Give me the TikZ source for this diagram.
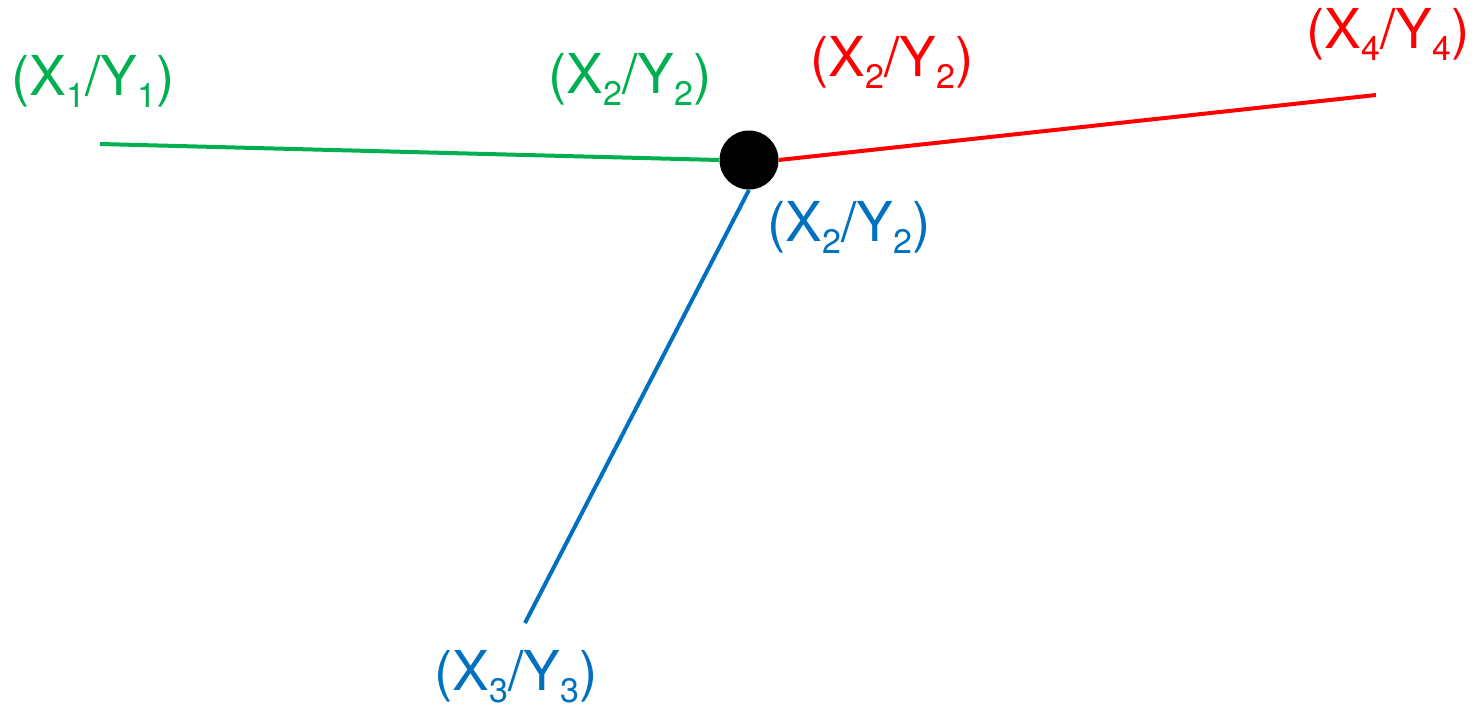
\documentclass[tikz,border=0pt]{standalone}
\usepackage{fontspec}
\setmainfont{TeX Gyre Heros}
\usepackage{tikz}
\usetikzlibrary{positioning}
\definecolor{segGreen}{HTML}{00B050}
\definecolor{segRed}{HTML}{FF0000}
\definecolor{segBlue}{HTML}{0070C0}
\newcommand{\idx}[1]{\raisebox{-6pt}{\fontsize{17}{17}\selectfont #1}}
\newcommand{\pt}[2]{(X\idx{#1}/Y\idx{#2})}

\begin{document}
\begin{tikzpicture}[
        x=0.5pt, y=-0.5pt,
        lbl/.style   = {inner sep=0pt, anchor=base, font=\fontsize{27.5}{29}\selectfont},
        seg/.style   = {line width=2pt},
        knotdot/.style = {circle, fill=black, inner sep=0pt, minimum size=29.5pt},
    ]
        \useasboundingbox (0,0) rectangle (1476,707);

        \coordinate (hub) at (749,160);
        \coordinate (p1) at (100,144);
        \coordinate (p4) at (1376,95);
        \coordinate (p3) at (525,623);

        \node[knotdot] (knot) at (hub) {};

        \draw[seg, segGreen] (p1) -- (knot.west);
        \draw[seg, segRed] (knot.east) -- (p4);
        \draw[seg, segBlue] (knot.south) -- (p3);

        \node[lbl, text=segGreen] (l1) at (93,95) {\pt{1}{1}};
        \node[lbl, text=segGreen] (l2g) at (630,93) {\pt{2}{2}};
        \node[lbl, text=segRed] (l2r) at (892,76) {\pt{2}{2}};
        \node[lbl, text=segRed] (l4) at (1388,48) {\pt{4}{4}};
        \node[lbl, text=segBlue] (l2b) at (849,241) {\pt{2}{2}};
        \node[lbl, text=segBlue] (l3) at (516,690) {\pt{3}{3}};
    \end{tikzpicture}
\end{document}
